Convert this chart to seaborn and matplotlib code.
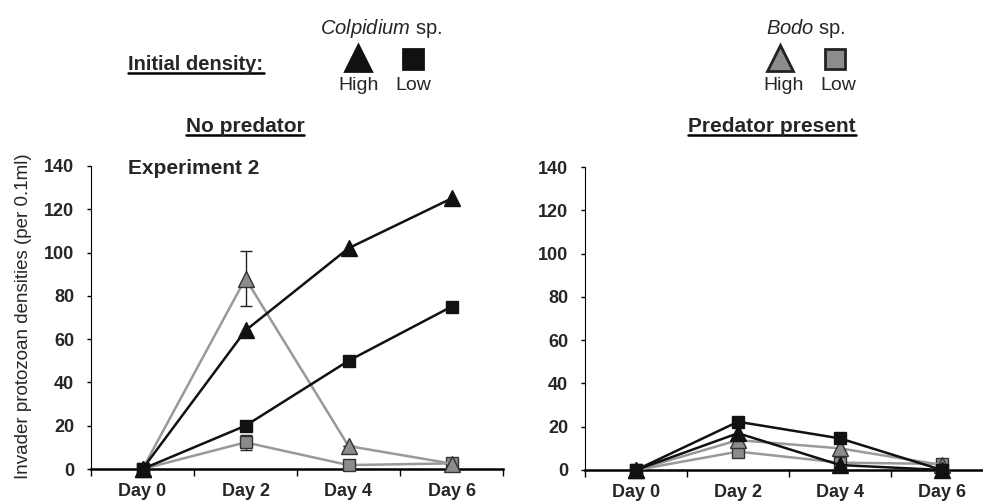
import numpy as np
import pandas as pd
import seaborn as sns
import matplotlib.pyplot as plt

sns.set_theme(style="white")
plt.rcParams["font.family"] = ["Liberation Sans", "DejaVu Sans"]
plt.rcParams["mathtext.fontset"] = "custom"
plt.rcParams["mathtext.rm"] = "Liberation Sans"
plt.rcParams["mathtext.it"] = "Liberation Sans:italic"

days = ["Day 0", "Day 2", "Day 4", "Day 6"]

# No predator
np_colp_high = [0, 64, 102, 125]
np_colp_low = [0, 20, 50, 75]
np_bodo_high = [0, 88, 10.6, 2.5]
np_bodo_low = [0, 12.3, 1.8, 2.6]
np_bodo_high_err = [0, 12.6, 0, 0]
np_bodo_low_err = [0, 3.3, 0, 0]

# Predator present
pp_colp_high = [0, 17, 2.3, 0]
pp_colp_low = [0, 22.3, 14.6, 0]
pp_bodo_high = [0, 13.8, 10, 2.3]
pp_bodo_low = [0, 8.5, 3.4, 2.8]

BLACK = "#111111"
GREY_LINE = "#999999"
GREY_FILL = "#8c8c8c"


def draw_panel(ax, bh, bl, ch, cl, bh_err=None, bl_err=None):
    x = np.arange(len(days))
    series = [
        (bl, GREY_LINE, "s", GREY_FILL, "#333333", 9),
        (bh, GREY_LINE, "^", GREY_FILL, "#333333", 11),
        (cl, BLACK, "s", BLACK, BLACK, 9),
        (ch, BLACK, "^", BLACK, BLACK, 11),
    ]
    for vals, lc, mk, fc, ec, ms in series:
        df = pd.DataFrame({"x": x, "y": vals})
        sns.lineplot(data=df, x="x", y="y", ax=ax, color=lc, linewidth=1.8,
                     marker=mk, markersize=ms, markerfacecolor=fc,
                     markeredgecolor=ec, markeredgewidth=1, zorder=3,
                     clip_on=False)
    if bh_err is not None:
        ax.errorbar(x, bh, yerr=bh_err, fmt="none", ecolor="#222222",
                    elinewidth=1, capsize=4, capthick=1, zorder=2)
    if bl_err is not None:
        ax.errorbar(x, bl, yerr=bl_err, fmt="none", ecolor="#222222",
                    elinewidth=1, capsize=4, capthick=1, zorder=2)

    ax.set_xlim(-0.5, 3.5)
    ax.set_ylim(0, 140)
    ax.set_yticks(range(0, 141, 20))
    ax.set_xticks(x)
    ax.set_xticklabels(days, fontsize=13, fontweight="bold")
    ax.set_xticks(np.arange(-0.5, 3.6, 1), minor=True)
    ax.tick_params(axis="x", which="major", length=0, pad=10)
    ax.tick_params(axis="x", which="minor", direction="out", length=5,
                   width=1, color="black", bottom=True)
    ax.tick_params(axis="y", direction="out", length=3, width=1,
                   color="black", left=True, labelsize=13, pad=9)
    for lab in ax.get_yticklabels():
        lab.set_fontweight("bold")
    ax.set_xlabel("")
    ax.set_ylabel("")
    for s in ["top", "right"]:
        ax.spines[s].set_visible(False)
    ax.spines["left"].set_color("black")
    ax.spines["left"].set_linewidth(0.8)
    ax.spines["bottom"].set_color("black")
    ax.spines["bottom"].set_linewidth(1.8)
    ax.patch.set_alpha(0)


W, H = 983, 503
fig = plt.figure(figsize=(W / 100, H / 100), dpi=100)
ax1 = fig.add_axes([91 / W, 1 - 469 / H, 412 / W, 303 / H])
ax2 = fig.add_axes([585 / W, 1 - 470 / H, 408 / W, 303 / H])

draw_panel(ax1, np_bodo_high, np_bodo_low, np_colp_high, np_colp_low,
           np_bodo_high_err, np_bodo_low_err)
draw_panel(ax2, pp_bodo_high, pp_bodo_low, pp_colp_high, pp_colp_low)


def px(x, y):
    return x / W, 1 - y / H


fig.text(*px(24, 316), "Invader protozoan densities (per 0.1ml)", rotation=90,
         ha="center", va="center", fontsize=13.5)
fig.text(*px(128, 168.5), "Experiment 2", fontsize=15, fontweight="bold",
         ha="left", va="center")

# panel titles
fig.text(*px(245, 126), "No predator", ha="center", va="center", fontsize=15,
         fontweight="bold")
fig.text(*px(772, 126), "Predator present", ha="center", va="center",
         fontsize=15, fontweight="bold")

# header legend
fig.text(*px(196, 64), "Initial density:", ha="center", va="center",
         fontsize=14.5, fontweight="bold")
fig.text(*px(381, 28), r"$\it{Colpidium}$ sp.", ha="center", va="center",
         fontsize=14.5)
fig.text(*px(806, 28), r"$\it{Bodo}$ sp.", ha="center", va="center",
         fontsize=14.5)
for xc, fc, ec in [(358, BLACK, BLACK), (780, GREY_FILL, "#222222")]:
    fig.lines.append(plt.Line2D(*zip(px(xc, 58)), marker="^", markersize=19,
                                markerfacecolor=fc, markeredgecolor=ec,
                                markeredgewidth=2, transform=fig.transFigure))
for xc, fc, ec in [(413, BLACK, BLACK), (835, GREY_FILL, "#222222")]:
    fig.lines.append(plt.Line2D(*zip(px(xc, 59)), marker="s", markersize=14.5,
                                markerfacecolor=fc, markeredgecolor=ec,
                                markeredgewidth=2, transform=fig.transFigure))
for xc, t in [(359, "High"), (413, "Low"), (784, "High"), (838, "Low")]:
    fig.text(*px(xc, 86), t, ha="center", va="center", fontsize=14)

# underlines
fig.canvas.draw()
renderer = fig.canvas.get_renderer()
for t in fig.texts:
    if t.get_text() in ("No predator", "Predator present", "Initial density:"):
        bb = t.get_window_extent(renderer).transformed(fig.transFigure.inverted())
        fig.lines.append(plt.Line2D([bb.x0, bb.x1], [bb.y0 + 0.001] * 2,
                                    color="black", linewidth=1.8,
                                    transform=fig.transFigure))

fig.savefig("out.png", dpi=100)
